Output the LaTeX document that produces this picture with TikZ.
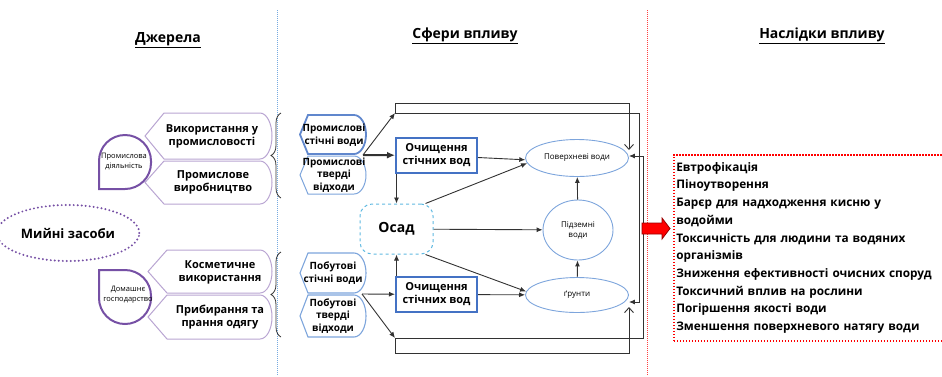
\documentclass[tikz,border=0pt]{standalone}
\usepackage{fontspec}
\setmainfont{Open Sans}
\usetikzlibrary{arrows.meta,shapes.geometric,decorations.pathreplacing,positioning}

\definecolor{lilac}{RGB}{185,165,210}
\definecolor{plum}{RGB}{118,80,165}
\definecolor{boxblue}{RGB}{68,114,196}
\definecolor{paleblue}{RGB}{125,165,220}
\definecolor{skyblue}{RGB}{95,185,225}
\definecolor{linegray}{RGB}{50,50,50}

% pointed left end, rounded right end
\newcommand{\tagshape}[6][]{%
  \pgfmathsetmacro{\tagmid}{(#3+#5)/2}%
  \pgfmathsetmacro{\taghh}{(#5-#3)/2}%
  \draw[#1] (#2,\tagmid) -- (#2+#6,#3) -- (#4-12,#3)
    arc[start angle=-90, end angle=90, x radius=12, y radius=\taghh]
    -- (#2+#6,#5) -- cycle;}

\tikzset{
  title/.style={font=\fontsize{14}{16}\selectfont\bfseries},
  srctext/.style={font=\fontsize{10}{12.5}\selectfont\bfseries, align=center},
  smalltext/.style={font=\fontsize{7.5}{10}\selectfont, align=center},
  cleanbox/.style={draw=boxblue, line width=2pt, minimum width=81, minimum height=35,
    font=\fontsize{11}{13}\selectfont\bfseries, align=center, inner sep=1pt},
  water/.style={ellipse, draw=paleblue, line width=0.9pt,
    font=\fontsize{8}{10}\selectfont, align=center, inner sep=0pt},
  flow/.style={draw=linegray, line width=0.9pt, -{Latex[length=6pt,width=5pt]}},
  openflow/.style={draw=linegray, line width=0.9pt, -{Straight Barb[length=5pt,width=9pt]}},
  bracket/.style={draw=linegray, line width=0.8pt, decorate, decoration={brace, mirror, amplitude=10pt}},
  drop/.style={draw=plum, line width=2pt, fill=white}
}

\begin{document}
\begin{tikzpicture}[x=1pt, y=-1pt]
\useasboundingbox (0,0) rectangle (942,376);

% columns
\draw[cyan!60!blue!55, dash pattern=on 1pt off 1pt, line width=0.9pt] (277,10) -- (277,376);
\draw[red!75, dash pattern=on 1pt off 1pt, line width=0.9pt] (647,10) -- (647,376);
\node[title] (hsrc) at (168,40) {\underline{Джерела}};
\node[title] (hsph) at (465,36) {\underline{Сфери впливу}};
\node[title] (hres) at (822,36) {\underline{Наслідки впливу}};

% sources
\node[ellipse, draw=plum, line width=2.2pt, dash pattern=on 0pt off 4pt, line cap=round,
  minimum width=106, minimum height=56, font=\fontsize{13}{15}\selectfont\bfseries] (deterg) at (68,233) {Мийні засоби};

\tagshape[draw=lilac, line width=1pt, fill=white]{145}{113}{272}{159}{19}
\tagshape[draw=lilac, line width=1pt, fill=white]{145}{161}{272}{204}{19}
\tagshape[draw=lilac, line width=1pt, fill=white]{148}{250}{272}{293}{19}
\tagshape[draw=lilac, line width=1pt, fill=white]{148}{295}{272}{339}{19}
\node[srctext, font=\fontsize{11}{13}\selectfont\bfseries] (use) at (212,136) {Використання у\\промисловості};
\node[srctext, font=\fontsize{11}{13}\selectfont\bfseries] (prod) at (213,182) {Промислове\\виробництво};
\node[srctext, font=\fontsize{11}{13}\selectfont\bfseries] (cosm) at (220,272) {Косметичне\\використання};
\node[srctext, font=\fontsize{11}{13}\selectfont\bfseries] (wash) at (220,317) {Прибирання та\\прання одягу};

\draw[drop] (99,189) [rounded corners=26] -- (99,135) -- (151,135) -- (151,189) [sharp corners] -- cycle;
\draw[drop] (99,270) [rounded corners=26] -- (151,270) -- (151,324) -- (99,324) [sharp corners] -- cycle;
\node[smalltext] (ind) at (124,162) {Промислова\\діяльність};
\node[smalltext] (home) at (128,295) {Домашнє\\господарство};

% spheres
\draw[bracket] (281,113) -- (281,198);
\draw[bracket] (281,252) -- (281,337);
\tagshape[draw=boxblue!85, line width=1.8pt, fill=white]{300}{115}{366}{154}{8}
\tagshape[draw=paleblue, line width=1pt, fill=white]{300}{156}{366}{194}{8}
\tagshape[draw=paleblue, line width=1.1pt, fill=white]{300}{253}{366}{293}{8}
\tagshape[draw=paleblue, line width=1.1pt, fill=white]{300}{295}{366}{337}{8}
\node[srctext] (ist) at (334,135) {Промислові\\стічні води};
\node[srctext] (itv) at (334,175) {Промислові\\тверді\\відходи};
\node[srctext] (pst) at (333,273) {Побутові\\стічні води};
\node[srctext] (ptv) at (333,316) {Побутові\\тверді\\відходи};

\node[cleanbox] (clean1) at (436.5,155.5) {Очищення\\стічних вод};
\node[cleanbox] (clean2) at (436.5,294.5) {Очищення\\стічних вод};
\node[draw=skyblue, dashed, line width=1pt, rounded corners=12, minimum width=73, minimum height=50,
  font=\fontsize{14}{16}\selectfont\bfseries] (sed) at (396.5,229) {Осад};
\node[water, minimum width=103, minimum height=37] (surf) at (577,158) {Поверхневі води};
\node[water, minimum width=70, minimum height=60] (under) at (578,230) {Підземні\\води};
\node[water, minimum width=103, minimum height=35] (soil) at (577,295) {ґрунти};

\coordinate (ij) at (363,155);
\coordinate (hj) at (362,294);
\coordinate (lA) at (395,113);
\coordinate (lB) at (395,338);
\coordinate (railA) at (639,302);
\coordinate (railB) at (643,156);
\coordinate (railC) at (629,150);
\coordinate (railD) at (629,307);

\draw[flow, line width=2pt, -{Latex[length=8pt,width=7pt]}] (ij) -- (clean1);
\draw[flow] (ij) -- (lA);
\draw[flow] (hj) -- (clean2);
\draw[flow] (hj) -- (lB);
\draw[flow] (clean1) -- (surf.182);
\draw[flow] (clean2) -- (soil);
\draw[flow] ([xshift=1.5pt]clean1.south west) -- ([xshift=1.5pt]clean1.south west |- sed.north);
\draw[flow] ([xshift=1.5pt]clean2.north west) -- ([xshift=1.5pt]clean2.north west |- sed.south);
\draw[flow] ([xshift=-8pt]sed.north east) -- (surf.186);
\draw[flow] (sed) -- (under);
\draw[flow] ([xshift=-8pt]sed.south east) -- (soil.176);
\draw[flow] (soil) -- (under);
\draw[flow] (under) -- (surf);

\draw[openflow] (lA) -- ++(0,-10) -| (railC);
\draw[openflow] (lB) -- ++(0,15) -| (railD);
\draw[flow] (lA) -| (railA) -- (railA -| soil.east);
\draw[flow] (lB) -| (railB) -- (railB -| surf.east);

% consequences
\draw[fill=red, draw=red!60!black, line width=0.8pt] (642,223) -- (662,223) -- (662,218) -- (670,228.5)
  -- (662,239) -- (662,234) -- (642,234) -- cycle;
\node[draw=red, line width=1.6pt, dash pattern=on 1.5pt off 1.5pt, anchor=north west,
  minimum height=186, text width=264, inner xsep=2.5, align=left,
  font=\fontsize{11.8}{17.7}\selectfont\bfseries] (effects) at (673,154) {Евтрофікація\\
Піноутворення\\
Барєр для надходження кисню у\\
водойми\\
Токсичність для людини та водяних\\
організмів\\
Зниження ефективності очисних споруд\\
Токсичний вплив на рослини\\
Погіршення якості води\\
Зменшення поверхневого натягу води};
\end{tikzpicture}
\end{document}
